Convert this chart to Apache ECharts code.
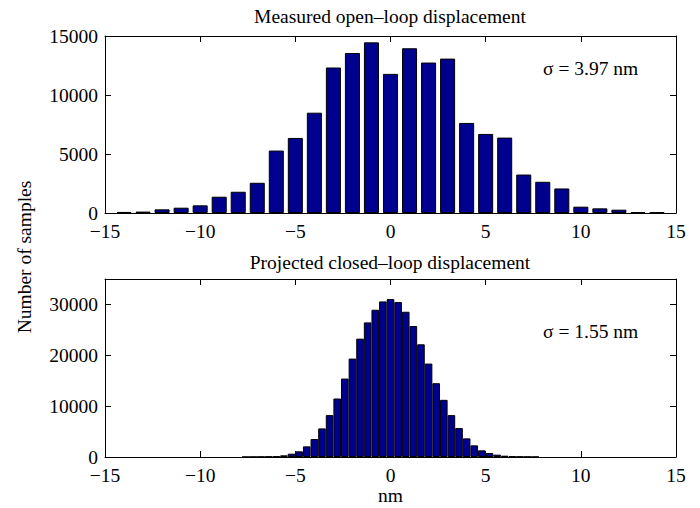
<!DOCTYPE html>
<html>
<head>
<meta charset="utf-8">
<script src="https://cdn.jsdelivr.net/npm/echarts@6/dist/echarts.min.js"></script>
<style>
html,body{margin:0;padding:0;background:#fff;}
#chart{width:700px;height:508px;}
</style>
</head>
<body>
<div id="chart"></div>
<script>
// ---- data ----
const openTitle = 'Measured open–loop displacement';
const closedTitle = 'Projected closed–loop displacement';
const yName = 'Number of samples';
const xName = 'nm';
const openSigma = 'σ = 3.97 nm';
const closedSigma = 'σ = 1.55 nm';

const openCenters = [-14,-13,-12,-11,-10,-9,-8,-7,-6,-5,-4,-3,-2,-1,0,1,2,3,4,5,6,7,8,9,10,11,12,13,14];
const openCounts  = [90,120,310,450,650,1380,1800,2560,5290,6360,8500,12330,13560,14460,11790,13960,12750,13085,7630,6700,6390,3260,2645,2080,535,394,280,85,56];

const closedCenters = [-7.6,-7.2,-6.8,-6.4,-6.0,-5.6,-5.2,-4.8,-4.4,-4.0,-3.6,-3.2,-2.8,-2.4,-2.0,-1.6,-1.2,-0.8,-0.4,0,
                       0.4,0.8,1.2,1.6,2.0,2.4,2.8,3.2,3.6,4.0,4.4,4.8,5.2,5.6,6.0,6.4,6.8,7.2,7.6];
const closedCounts  = [20,30,50,80,130,330,650,1110,2090,3530,5620,8235,11500,15425,19350,23270,26470,28955,30590,31050,
                       30460,28560,25750,22160,18370,14510,11240,8235,5690,3660,2290,1310,785,460,260,150,80,50,30];

const xRange = [-15, 15];
const xStep = 5;
const openYRange = [0, 15000];
const openYStep = 5000;
const closedYRange = [0, 35000];
const closedYStep = 10000;

// ---- chart ----
const FONT = '"Liberation Serif", "Times New Roman", serif';
const FS = 19.5;
const lineStyle = {color:'#000', width:1};
const fmtX = v => (v < 0 ? '\u2212' + Math.abs(v) : String(v));
const fmtY = v => String(v);

function xAxes(grid, withName) {
  const common = {
    gridIndex: grid, type:'value', min:xRange[0], max:xRange[1], interval:xStep,
    axisLine:{show:true, onZero:false, lineStyle},
    axisTick:{show:true, inside:true, length:6, lineStyle},
    splitLine:{show:false}
  };
  const bottom = Object.assign({}, common, {
    position:'bottom',
    axisLabel:{show:true, margin:10, lineHeight:16, color:'#000', fontFamily:FONT, fontSize:FS, formatter:fmtX}
  });
  if (withName) {
    Object.assign(bottom, {name:xName, nameLocation:'middle', nameGap:26,
      nameTextStyle:{color:'#000', fontFamily:FONT, fontSize:FS}});
  }
  const top = Object.assign({}, common, {position:'top', axisLabel:{show:false}});
  return [bottom, top];
}
function yAxes(grid, range, step) {
  const common = {
    gridIndex:grid, type:'value', min:range[0], max:range[1], interval:step,
    axisLine:{show:true, onZero:false, lineStyle},
    axisTick:{show:true, inside:true, length:6, lineStyle},
    splitLine:{show:false}
  };
  const left = Object.assign({}, common, {position:'left',
    axisLabel:{show:true, margin:7, lineHeight:16, color:'#000', fontFamily:FONT, fontSize:FS, formatter:fmtY,
               showMaxLabel: range[1] % step === 0}});
  const right = Object.assign({}, common, {position:'right', axisLabel:{show:false}});
  return [left, right];
}

const barColor = '#00008E';

const option = {
  animation:false,
  backgroundColor:'#fff',
  grid:[
    {left:105, top:36, width:571, height:177},
    {left:105, top:279, width:571, height:178}
  ],
  xAxis:[...xAxes(0,false), ...xAxes(1,true)],
  yAxis:[...yAxes(0, openYRange, openYStep), ...yAxes(1, closedYRange, closedYStep)],
  series:[
    {type:'bar', xAxisIndex:0, yAxisIndex:0, barWidth:'79%',
     itemStyle:{color:barColor, borderColor:'#000', borderWidth:1},
     data: openCenters.map((c,i)=>[c, openCounts[i]])},
    {type:'bar', xAxisIndex:2, yAxisIndex:2, barWidth:'100%',
     itemStyle:{color:barColor, borderColor:'#000', borderWidth:1},
     data: closedCenters.map((c,i)=>[c, closedCounts[i]])}
  ],
  graphic:[
    {type:'text', x:390, y:16, style:{text:openTitle, font:FS+'px '+FONT, fill:'#000', textAlign:'center', textVerticalAlign:'middle'}},
    {type:'text', x:390, y:262, style:{text:closedTitle, font:FS+'px '+FONT, fill:'#000', textAlign:'center', textVerticalAlign:'middle'}},
    {type:'text', x:543, y:68, style:{text:openSigma, font:FS+'px '+FONT, fill:'#000', textAlign:'left', textVerticalAlign:'middle'}},
    {type:'text', x:543, y:331, style:{text:closedSigma, font:FS+'px '+FONT, fill:'#000', textAlign:'left', textVerticalAlign:'middle'}},
    {type:'text', x:24, y:257, rotation:Math.PI/2, style:{text:yName, font:FS+'px '+FONT, fill:'#000', textAlign:'center', textVerticalAlign:'middle'}}
  ]
};

const chart = echarts.init(document.getElementById('chart'), null, {renderer:'svg', width:700, height:508});
chart.setOption(option);
</script>
</body>
</html>
